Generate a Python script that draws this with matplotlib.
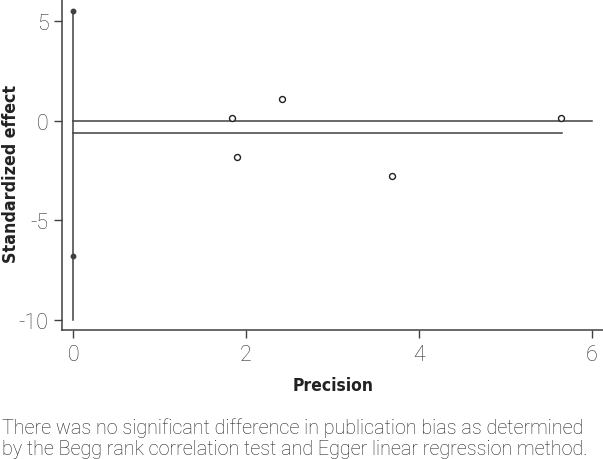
import matplotlib
matplotlib.use("Agg")
import matplotlib.pyplot as plt

# study points: precision vs standardized effect
precision = [1.84, 1.90, 2.41, 3.69, 5.64]
std_effect = [0.12, -1.83, 1.10, -2.77, 0.12]

# intercept confidence interval at precision 0
ci_x = [0, 0]
ci_line = [-10.0, 5.51]
ci_dots = [5.51, -6.78]

# fitted line and zero line
fit_x = [0, 5.66]
fit_y = [-0.64, -0.64]
zero_x = [0, 6]
zero_y = [0, 0]

xticks = [0, 2, 4, 6]
yticks = [-10, -5, 0, 5]

caption = ("There was no significant difference in publication bias as determined\n"
           "by the Begg rank correlation test and Egger linear regression method.")

col = '#404040'

fig = plt.figure(figsize=(6.03, 4.60), dpi=100)
ax = fig.add_axes([62.3/603, 1 - 331/460, 1 - 62.3/603, 331/460])

ax.plot(ci_x, ci_line, color=col, lw=1.1)
ax.plot([0, 0], ci_dots, 'o', color=col, ms=3.2, ls='none')
ax.plot(zero_x, zero_y, color=col, lw=1.1)
ax.plot(fit_x, fit_y, color=col, lw=1.1)
ax.plot(precision, std_effect, 'o', mfc='white', mec='#222222', mew=1.0, ms=4.3, ls='none')

ax.set_xlim(-0.127, 6.13)
ax.set_ylim(-10.52, 6.12)
ax.set_xticks(xticks)
ax.set_yticks(yticks)
ax.set_xticklabels([str(v) for v in xticks], family='Roboto', weight='light', fontsize=15.5, color='#333333')
ax.set_yticklabels([str(v) for v in yticks], family='Roboto', weight='light', fontsize=15.5, color='#333333')
ax.tick_params(direction='out', length=6, width=1, color=col, pad=4)

for s in ['top', 'right']:
    ax.spines[s].set_visible(False)
for s in ['left', 'bottom']:
    ax.spines[s].set_color(col)
    ax.spines[s].set_linewidth(1.1)

ax.set_xlabel('Precision', family='DejaVu Sans', stretch='condensed', fontsize=12.5,
              fontweight='bold', color='#222222', labelpad=8)
ax.set_ylabel('Standardized effect', family='DejaVu Sans', stretch='condensed', fontsize=12.8,
              fontweight='bold', color='#222222', va='center')
ax.yaxis.set_label_coords(-0.095, 0.475)

fig.text(0.004, 1 - 418/460, caption, fontsize=14.2, color='#222222', family='Roboto', weight='light',
         linespacing=1.12, va='top', ha='left')

fig.savefig('out.png', dpi=100)
